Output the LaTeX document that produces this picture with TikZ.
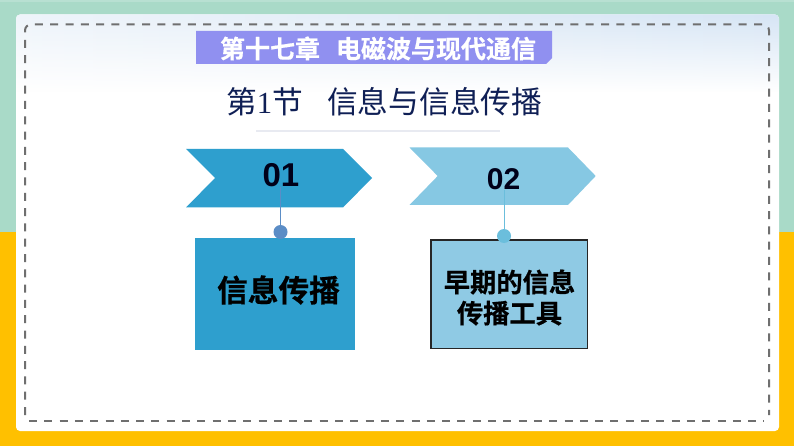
\documentclass[tikz,border=0pt]{standalone}
\usepackage{fontspec}
\setmainfont{Liberation Sans}
\newfontfamily\cjk{Noto Sans CJK SC}
\newfontfamily\cjkb[FakeBold=0.6]{Noto Sans CJK SC Bold}
\newfontfamily\timesf{Liberation Serif}
\usetikzlibrary{fadings}
\definecolor{teal1}{HTML}{A9DAC8}
\definecolor{teal2}{HTML}{B8E0D2}
\definecolor{gold1}{HTML}{FFC000}
\definecolor{dash1}{HTML}{6F6F6F}
\definecolor{banner1}{HTML}{9090F0}
\definecolor{navy1}{HTML}{0F1F55}
\definecolor{rule1}{HTML}{E8EAF1}
\definecolor{blue1}{HTML}{2E9FCE}
\definecolor{blue2}{HTML}{86C8E3}
\definecolor{blue3}{HTML}{8FCAE4}
\definecolor{dot1}{HTML}{5B8DC6}
\definecolor{dot2}{HTML}{6BBEDC}
\definecolor{hazeL}{HTML}{EEF4FA}
\definecolor{hazeM}{HTML}{E3EEF8}
\definecolor{hazeR}{HTML}{D6E5F5}
\tikzset{
  x=1pt,y=-1pt,
  banner text/.style={font=\cjkb\fontsize{25}{25}\selectfont,text=white,inner sep=0pt,anchor=center},
  heading/.style={font=\cjk\fontsize{30.7}{31}\selectfont,text=navy1,inner sep=0pt},
  numlabel/.style={font=\bfseries\fontsize{33}{33}\selectfont,text=black!90!blue,inner sep=0pt},
  boxbase/.style={inner sep=0pt,anchor=north west},
  boxtext/.style={font=\cjkb\selectfont,text=black,inner sep=0pt,align=center},
  stem/.style={line width=1pt},
  dashline/.style={dash1,line width=2pt,dash pattern=on 8pt off 7.3pt},
}
\begin{document}
\begin{tikzpicture}
\useasboundingbox (0,0) rectangle (794,446);
% background
\fill[teal1] (0,0) rectangle (794,232);
\fill[teal2] (0,0) rectangle (794,2);
\fill[gold1] (0,232) rectangle (794,446);
% panel
\fill[white,rounded corners=4pt] (16,14.5) rectangle (779,431);
\begin{scope}
 \clip[rounded corners=4pt] (16,14.5) rectangle (779,431);
 \shade[left color=hazeL,middle color=hazeM,right color=hazeR,path fading=south] (16,14.5) rectangle (779,92);
\end{scope}
\draw[dashline,rounded corners=6pt] (25,415) -- (25,24.5) -- (769,24.5) -- (769,415);
\draw[dashline] (29,421) -- (764,421);
% banner
\fill[banner1] (196,31) -- (552,31) -- (552,58) -- (546,64) -- (196,64) -- cycle;
\node[banner text] (t1) at (378,48.5) {第十七章\hspace{16pt}电磁波与现代通信};
% heading
\node[heading,anchor=west] (t2) at (226,102) {第{\timesf 1}节};
\node[heading,anchor=west] (t3) at (327,102) {信息与信息传播};
\draw[rule1,line width=2pt] (256,131) -- (500,131);
% chevrons
\fill[blue1] (186,149) -- (343,149) -- (372,178) -- (343,207.5) -- (186,207.5) -- (215,178) -- cycle;
\fill[blue2] (409.5,147.5) -- (568,147.5) -- (595.7,176) -- (568,205) -- (409.5,205) -- (437.7,176) -- cycle;
\coordinate (c1) at (280.5,187);
\coordinate (c2) at (504,190);
% boxes
\node[boxbase,fill=blue1,minimum width=160pt,minimum height=112.5pt] (b1) at (194.5,237.5) {};
\node[boxbase,fill=blue3,draw=black!85,line width=1.5pt,minimum width=156.5pt,minimum height=108.8pt] (b2) at (430,239) {};
% dots
\node[circle,fill=dot1,minimum size=14pt,inner sep=0pt] (d1) at (280.5,232) {};
\node[circle,fill=dot2,minimum size=14pt,inner sep=0pt] (d2) at (504,236) {};
\draw[stem,draw=dot1] (c1) -- (d1);
\draw[stem,draw=dot2] (c2) -- (d2);
% labels
\node[numlabel] (n1) at (281,175) {01};
\node[numlabel,font=\bfseries\fontsize{30}{30}\selectfont] (n2) at (503.5,179) {02};
\node[boxtext,font=\cjkb\fontsize{30.7}{31}\selectfont] (l1) at (278.5,290) {信息传播};
\node[boxtext,font=\cjkb\fontsize{26.3}{31}\selectfont] (l2) at (509.5,297.5) {早期的信息\\传播工具};
\end{tikzpicture}
\end{document}
